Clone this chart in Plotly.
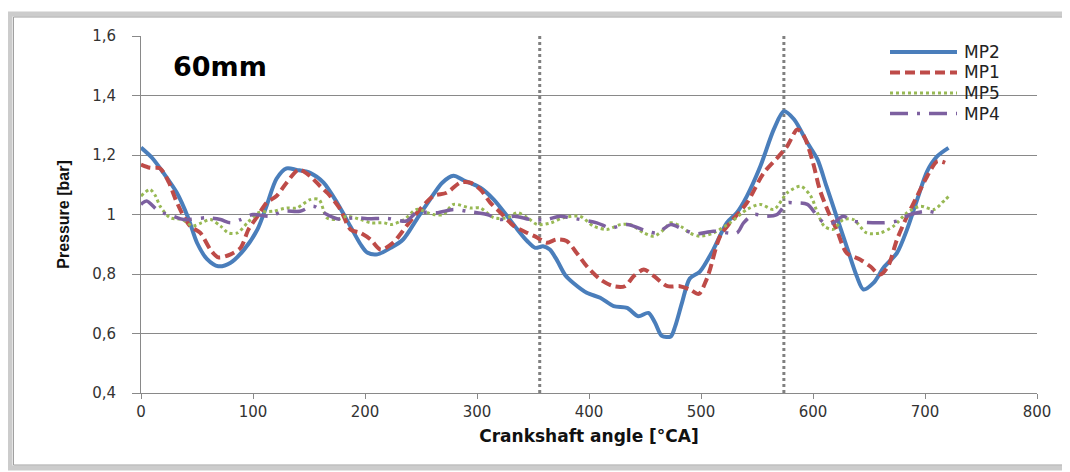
import plotly.graph_objects as go

# Pressure traces (crank angle in deg CA, pressure in bar)
mp2_angle = [0, 10, 20, 32, 42, 50, 59, 69, 80, 92, 104, 112, 121, 130, 139, 151, 163, 175, 187, 196,
             202, 211, 223, 234, 246, 258, 269, 279, 288, 303, 315, 327, 336, 345, 352, 359, 365, 371,
             379, 386, 398, 410, 422, 434, 444, 453, 459, 465, 473, 477, 483, 490, 499, 511, 523, 532,
             541, 553, 565, 574, 583, 595, 604, 612, 621, 630, 639, 645, 654, 663, 675, 684, 693, 702,
             711, 721]
mp2_pressure = [1.225, 1.19, 1.14, 1.073, 0.99, 0.905, 0.85, 0.826, 0.838, 0.882, 0.95, 1.028, 1.12,
                1.155, 1.15, 1.14, 1.107, 1.04, 0.96, 0.90, 0.872, 0.866, 0.888, 0.916, 0.983, 1.05,
                1.107, 1.13, 1.115, 1.09, 1.05, 0.994, 0.95, 0.91, 0.888, 0.893, 0.882, 0.849, 0.795,
                0.77, 0.737, 0.72, 0.692, 0.686, 0.658, 0.669, 0.636, 0.592, 0.59, 0.625, 0.703, 0.785,
                0.808, 0.882, 0.972, 1.006, 1.062, 1.162, 1.286, 1.347, 1.32, 1.241, 1.185, 1.095,
                0.994, 0.893, 0.793, 0.748, 0.77, 0.821, 0.871, 0.95, 1.05, 1.146, 1.196, 1.224]

mp1_angle = [0, 8, 17, 25, 31, 38, 44, 53, 62, 69, 80, 89, 96, 104, 112, 121, 130, 141, 151, 160, 169,
             178, 187, 196, 205, 214, 225, 237, 249, 261, 273, 285, 294, 303, 312, 321, 333, 345, 354,
             362, 371, 380, 389, 398, 410, 422, 432, 440, 449, 458, 470, 481, 490, 498, 505, 508, 517,
             526, 541, 556, 568, 577, 586, 592, 600, 606, 614, 621, 630, 642, 651, 660, 667, 675, 684,
             693, 702, 711, 718]
mp1_pressure = [1.168, 1.157, 1.155, 1.107, 1.05, 0.994, 0.961, 0.938, 0.882, 0.856, 0.866, 0.888,
                0.95, 0.994, 1.039, 1.062, 1.107, 1.151, 1.129, 1.095, 1.062, 1.017, 0.95, 0.938,
                0.916, 0.882, 0.905, 0.961, 1.017, 1.062, 1.073, 1.107, 1.107, 1.084, 1.039, 1.006,
                0.961, 0.938, 0.922, 0.905, 0.916, 0.911, 0.871, 0.826, 0.782, 0.759, 0.759, 0.793,
                0.815, 0.793, 0.759, 0.759, 0.748, 0.733, 0.782, 0.815, 0.927, 0.972, 1.039, 1.14,
                1.19, 1.23, 1.286, 1.263, 1.174, 1.084, 1.006, 0.95, 0.871, 0.849, 0.826, 0.798,
                0.826, 0.916, 0.994, 1.062, 1.129, 1.179, 1.174]

mp5_angle = [0, 8, 13, 17, 26, 37, 46, 54, 62, 71, 78, 86, 95, 105, 118, 130, 139, 151, 159, 166, 175,
             184, 196, 205, 217, 223, 235, 246, 261, 270, 279, 294, 303, 315, 327, 336, 345, 354, 366,
             377, 392, 404, 416, 428, 437, 449, 458, 467, 473, 482, 490, 499, 511, 526, 541, 553, 565,
             577, 589, 598, 604, 610, 618, 627, 636, 648, 660, 672, 684, 696, 708, 718, 721]
mp5_pressure = [1.062, 1.084, 1.062, 1.028, 0.989, 0.983, 0.961, 0.972, 0.983, 0.961, 0.938, 0.938,
                0.972, 1.006, 1.011, 1.022, 1.022, 1.05, 1.05, 0.989, 0.983, 0.994, 0.983, 0.972,
                0.972, 0.966, 0.983, 1.017, 1.0, 1.0, 1.034, 1.022, 1.022, 0.989, 0.989, 1.006, 0.989,
                0.966, 0.972, 0.989, 0.994, 0.961, 0.95, 0.966, 0.966, 0.938, 0.927, 0.95, 0.972,
                0.96, 0.938, 0.927, 0.938, 0.972, 1.017, 1.034, 1.017, 1.073, 1.095, 1.062, 1.006,
                0.961, 0.95, 0.983, 0.983, 0.938, 0.938, 0.961, 1.006, 1.028, 1.017, 1.05, 1.06]

mp4_angle = [0, 5, 16, 29, 38, 59, 71, 80, 89, 100, 115, 127, 142, 154, 163, 175, 193, 202, 220, 237,
             246, 264, 279, 291, 309, 321, 333, 348, 362, 374, 383, 407, 419, 434, 452, 461, 473, 484,
             496, 511, 532, 538, 547, 559, 568, 577, 583, 595, 604, 610, 618, 627, 636, 660, 675, 687,
             702, 714]
mp4_pressure = [1.034, 1.045, 1.011, 0.994, 0.983, 0.989, 0.983, 0.972, 0.983, 1.0, 0.994, 1.011,
                1.011, 1.028, 1.006, 0.986, 0.989, 0.986, 0.987, 0.978, 1.006, 1.006, 1.017, 1.011,
                1.0, 0.983, 0.994, 0.983, 0.983, 0.994, 0.989, 0.972, 0.955, 0.966, 0.944, 0.938,
                0.966, 0.95, 0.935, 0.944, 0.938, 0.972, 1.0, 0.994, 1.0, 1.039, 1.039, 1.034, 0.994,
                0.972, 0.972, 0.994, 0.978, 0.972, 0.978, 1.0, 1.011, 1.0]

# dotted markers (deg CA)
marker_angles = [356, 574]

x_ticks = [0, 100, 200, 300, 400, 500, 600, 700, 800]
y_ticks = [0.4, 0.6, 0.8, 1.0, 1.2, 1.4, 1.6]

series = [
    ("MP2", mp2_angle, mp2_pressure, "#4A7EBB", 4, "solid"),
    ("MP1", mp1_angle, mp1_pressure, "#BE4B48", 4, "10px,5px"),
    ("MP5", mp5_angle, mp5_pressure, "#98B954", 3, "dot"),
    ("MP4", mp4_angle, mp4_pressure, "#7D60A0", 3.5, "18px,9px,3px,9px"),
]

# page body has an 8px margin, so the figure is a bit smaller than the window
W, H = 1062, 464
L, R, T, B = 133, 33, 28, 79
PW, PH = W - L - R, H - T - B


def px(fx):
    return (fx - L) / PW


def py(fy):
    return (H - B - fy) / PH


fig = go.Figure()

for ang in marker_angles:
    fig.add_shape(type="line", x0=ang, x1=ang, y0=0.4, y1=1.6, xref="x", yref="y",
                  line=dict(color="#808080", width=3, dash="dot"), layer="between")

for name, xs, ys, color, width, dash in series:
    fig.add_trace(go.Scatter(
        x=xs, y=ys, name=name, mode="lines", showlegend=False,
        line=dict(color=color, width=width, dash=dash, shape="spline", smoothing=0.8),
    ))

# legend box (drawn by hand to match the row spacing of the original)
fig.add_shape(type="rect", xref="paper", yref="paper", x0=px(852), x1=1.0, y0=py(117), y1=py(32),
              fillcolor="white", line=dict(width=0), layer="between")
for i, (name, xs, ys, color, width, dash) in enumerate(series):
    row = py(44 + 20.5 * i)
    fig.add_shape(type="line", xref="paper", yref="paper", x0=px(882), x1=px(949), y0=row, y1=row,
                  line=dict(color=color, width=width, dash=dash), layer="above")
    fig.add_annotation(text=name, xref="paper", yref="paper", x=px(954), y=row,
                       xanchor="left", yanchor="middle", showarrow=False,
                       font=dict(family="DejaVu Sans", size=17, color="#222222"))

# outer chart frame
fig.add_shape(type="rect", xref="paper", yref="paper", x0=px(2), x1=1.2, y0=py(460), y1=py(6),
              line=dict(color="#cccccc", width=5), layer="below")
fig.add_shape(type="rect", xref="paper", yref="paper", x0=px(5.5), x1=1.2, y0=py(457), y1=py(9),
              line=dict(color="#a0a0a0", width=1), layer="below")

fig.add_annotation(text="<b>60mm</b>", xref="paper", yref="paper", x=px(163), y=py(58),
                   xanchor="left", yanchor="middle", showarrow=False,
                   font=dict(family="DejaVu Sans", size=27, color="#000000"))

fig.update_layout(
    width=W, height=H,
    margin=dict(l=L, r=R, t=T, b=B),
    paper_bgcolor="white", plot_bgcolor="white",
    separators=", ",
    font=dict(family="DejaVu Sans", size=15, color="#333333"),
    xaxis=dict(range=[0, 800], tickvals=x_ticks, showgrid=False, zeroline=False,
               showline=True, linecolor="#898989", linewidth=1, ticks="outside", ticklen=5,
               tickcolor="#898989",
               title=dict(text="<b>Crankshaft angle [°CA]</b>", standoff=10,
                          font=dict(family="DejaVu Sans", size=17, color="#111111"))),
    yaxis=dict(range=[0.4, 1.6], tickvals=y_ticks, showgrid=True, gridcolor="#898989",
               gridwidth=1, zeroline=False, showline=True, linecolor="#898989", linewidth=1,
               ticks="outside", ticklen=8, tickcolor="#898989", ticklabelstandoff=13,
               title=dict(text="<b>Pressure [bar]</b>", standoff=18,
                          font=dict(family="Liberation Sans", size=16, color="#111111"))),
)

fig.write_html("out.html")
